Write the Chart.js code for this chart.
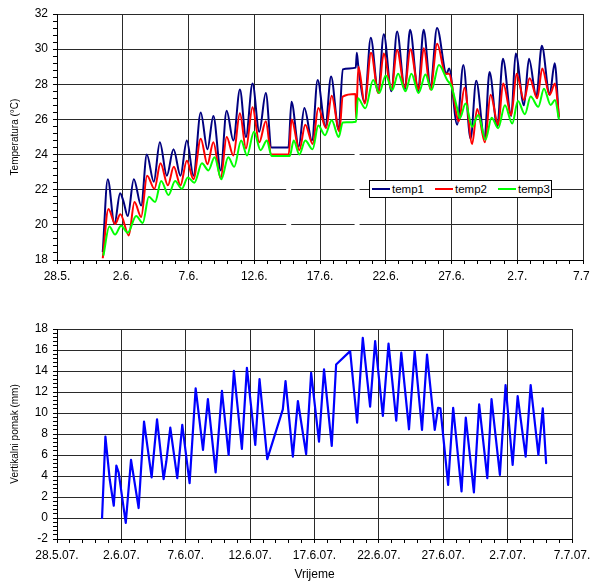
<!DOCTYPE html>
<html>
<head>
<meta charset="utf-8">
<script src="https://cdn.jsdelivr.net/npm/chart.js@4.4.0/dist/chart.umd.min.js"></script>
<style>
  html, body { margin: 0; padding: 0; background: #fff; overflow: hidden; }
  #wrap { position: relative; width: 590px; height: 581px; overflow: hidden; }
  #top { position: absolute; left: 0; top: 0; }
  #bottom { position: absolute; left: 0; top: 295px; }
  #legend {
    position: absolute; left: 369px; top: 180px; width: 181px; height: 16px;
    border: 1px solid #000; background: #fff; display: flex; align-items: center;
    font: 11.5px "Liberation Sans", Arial, sans-serif; color: #000;
  }
  #legend .item { display: flex; align-items: center; margin-left: 2px; margin-right: 9px; }
  #legend i { display: inline-block; width: 18px; height: 2px; margin-right: 2px; }
</style>
</head>
<body>
<div id="wrap">
  <canvas id="top" width="600" height="292"></canvas>
  <canvas id="bottom" width="600" height="286"></canvas>
  <div id="legend">
    <span class="item"><i style="background:#000080"></i>temp1</span>
    <span class="item"><i style="background:#ff0000"></i>temp2</span>
    <span class="item"><i style="background:#00ff00"></i>temp3</span>
  </div>
</div>
<script>
// x values are days counted from 28.5.
const dayTicks = [0, 5, 10, 15, 20, 25, 30, 35, 40];
const topDateLabels = ['28.5.', '2.6.', '7.6.', '12.6.', '17.6.', '22.6.', '27.6.', '2.7.', '7.7.'];
const bottomDateLabels = ['28.5.07.', '2.6.07.', '7.6.07.', '12.6.07.', '17.6.07.', '22.6.07.', '27.6.07.', '2.7.07.', '7.7.07.'];
const tempTicks = [18, 20, 22, 24, 26, 28, 30, 32];
const pomakTicks = [-2, 0, 2, 4, 6, 8, 10, 12, 14, 16, 18];

const temp1Days = [3.48, 3.86, 4.37, 4.8, 5.05, 5.38, 5.84, 6.4, 6.83, 7.36, 7.82, 8.35, 8.86, 9.39, 9.87, 10.38,
  10.93, 11.44, 11.89, 12.45, 12.9, 13.41, 13.91, 14.37, 14.87, 15.38, 15.88, 16.31, 17.6, 17.83, 18.38, 18.81,
  19.39, 19.82, 20.41, 20.84, 21.42, 21.73, 22.72, 22.8, 22.9, 23.4, 23.86, 24.42, 24.85, 25.43, 25.86, 26.45,
  26.85, 27.46, 27.88, 28.4, 28.9, 29.62, 29.82, 30.43, 30.9, 31.45, 31.88, 32.51, 32.89, 33.48, 33.91, 34.54,
  34.88, 35.51, 35.89, 36.45, 36.87, 37.46, 37.85, 38.16];
const temp1 = [18.45, 22.6, 20.05, 21.8, 21.35, 20.5, 22.6, 21.1, 24.0, 22.45, 24.7, 22.8, 24.3, 22.8, 24.8, 22.8,
  26.4, 24.3, 26.2, 23.1, 26.5, 24.8, 27.7, 25.0, 28.05, 25.3, 27.5, 24.4, 24.4, 27.0, 24.45, 26.65,
  24.8, 28.25, 25.6, 28.45, 25.4, 28.85, 28.95, 29.8, 29.1, 27.0, 30.65, 27.55, 30.85, 27.6, 31.0, 27.7,
  31.1, 27.6, 31.1, 27.9, 31.2, 28.6, 28.9, 25.7, 29.1, 24.9, 28.2, 24.9, 28.7, 25.6, 29.45, 26.2,
  29.75, 26.8, 29.45, 27.3, 30.2, 27.4, 29.2, 26.1];

const temp2Days = [3.48, 3.91, 4.42, 4.82, 5.46, 5.89, 6.4, 6.85, 7.41, 7.87, 8.43, 8.88, 9.39, 9.87, 10.38,
  10.93, 11.44, 11.89, 12.45, 12.9, 13.41, 13.91, 14.37, 14.87, 15.38, 15.88, 16.3, 17.62, 17.84, 18.43, 18.88,
  19.44, 19.87, 20.46, 20.89, 21.47, 21.73, 22.7, 22.74, 22.92, 23.4, 23.88, 24.44, 24.85, 25.43, 25.86, 26.45,
  26.87, 27.5, 27.89, 28.4, 28.91, 29.54, 29.8, 30.43, 30.56, 30.99, 31.57, 31.95, 32.54, 32.97, 33.55, 33.93,
  34.54, 34.95, 35.51, 35.94, 36.52, 36.9, 37.46, 37.87, 38.17];
const temp2 = [18.1, 20.9, 20.05, 20.6, 19.4, 21.3, 20.45, 22.8, 22.05, 23.5, 22.25, 23.3, 22.25, 23.65, 22.6,
  24.9, 23.45, 24.7, 22.65, 25.0, 23.95, 26.35, 24.35, 26.7, 24.7, 25.9, 24.0, 24.0, 26.0, 24.25, 25.7,
  24.6, 26.65, 25.5, 27.35, 25.3, 27.3, 27.45, 26.1, 29.0, 26.9, 29.8, 27.5, 29.75, 27.7, 29.95, 27.8,
  30.0, 27.7, 30.05, 27.7, 30.3, 28.6, 28.6, 26.1, 25.9, 27.8, 24.6, 26.6, 24.7, 27.4, 25.7, 28.05,
  26.25, 28.6, 27.1, 28.35, 27.2, 28.9, 27.4, 28.05, 26.15];

const temp3Days = [3.53, 3.98, 4.42, 4.87, 5.38, 6.02, 6.52, 6.98, 7.46, 7.92, 8.48, 8.98, 9.49, 9.95, 10.45,
  11.02, 11.52, 11.98, 12.5, 13.02, 13.48, 14.0, 14.45, 14.98, 15.48, 15.96, 16.32, 17.7, 18.0, 18.43, 18.88,
  19.44, 19.87, 20.38, 20.89, 21.42, 21.73, 22.74, 22.88, 23.45, 24.04, 24.5, 25.0, 25.5, 25.94, 26.5, 26.95,
  27.5, 28.02, 28.48, 29.04, 29.67, 30.0, 30.43, 30.63, 31.07, 31.57, 32.03, 32.59, 33.05, 33.55, 34.06, 34.62,
  35.05, 35.58, 36.02, 36.6, 37.03, 37.54, 37.87, 38.17];
const temp3 = [18.25, 19.9, 19.45, 19.95, 19.55, 20.5, 20.1, 21.6, 21.3, 22.5, 21.7, 22.5, 22.05, 22.7, 22.4,
  23.5, 23.1, 23.85, 22.6, 23.85, 23.3, 24.8, 23.95, 25.3, 24.25, 24.8, 23.92, 23.92, 24.8, 24.0, 24.8,
  24.3, 25.65, 25.1, 25.95, 25.0, 25.83, 25.87, 27.2, 26.63, 28.25, 27.5, 28.5, 27.68, 28.6, 27.6, 28.6,
  27.5, 28.55, 27.68, 29.1, 28.25, 27.87, 26.63, 26.06, 26.9, 25.58, 26.25, 24.85, 26.1, 25.5, 26.8, 25.77,
  27.05, 26.3, 27.3, 26.72, 27.75, 26.82, 27.1, 26.0];

// white breaks across the grid where the logger dropped out
const gapDays = [17.62, 17.62, null, 22.82, 22.82];
const gapTemps = [23.6, 18.08, null, 25.5, 18.08];

const pomakDays = [3.5, 3.76, 4.1, 4.41, 4.61, 4.79, 5.34, 5.75, 6.34, 6.76, 7.35, 7.77, 8.28, 8.49, 8.8, 9.34,
  9.73, 10.3, 10.77, 11.34, 11.72, 12.32, 12.81, 13.33, 13.74, 14.36, 14.75, 15.4, 15.73, 16.33, 17.54, 17.75,
  18.32, 18.71, 19.35, 19.74, 20.35, 20.74, 21.34, 21.68, 22.77, 23.31, 23.75, 24.32, 24.71, 25.31, 25.75, 26.35,
  26.74, 27.34, 27.78, 28.35, 28.74, 29.34, 29.6, 29.78, 30.38, 30.77, 31.42, 31.75, 32.38, 32.79, 33.42, 33.75,
  34.4, 34.84, 35.39, 35.78, 36.4, 36.79, 37.39, 37.73, 37.99];
const pomak = [0, 7.75, 3.64, 1.17, 5.0, 4.33, -0.47, 5.54, 0.95, 9.18, 3.86, 9.4, 3.7, 5.38, 8.6, 3.8,
  8.86, 3.32, 12.34, 6.49, 11.33, 4.34, 12.12, 6.01, 14.02, 6.58, 14.3, 6.96, 13.23, 5.6, 10.35, 13.04,
  5.85, 11.14, 6.08, 13.83, 7.28, 14.15, 6.87, 14.62, 15.89, 9.08, 17.15, 10.6, 16.84, 9.72, 16.61, 9.27,
  15.76, 8.45, 15.89, 8.39, 15.57, 8.39, 10.5, 10.44, 3.16, 10.5, 2.53, 9.56, 2.44, 10.82, 3.8, 11.33,
  4.11, 12.66, 5.06, 11.61, 5.85, 12.66, 6.01, 10.44, 5.22];

Chart.defaults.font.family = '"Liberation Sans", Arial, sans-serif';
Chart.defaults.color = '#000';

function toPoints(days, values) {
  return days.map((d, i) => ({ x: d, y: values[i] }));
}

function isMajor(v, list) {
  return list.some(t => Math.abs(t - v) < 1e-6);
}

function dayAxis(labels, height) {
  return {
    type: 'linear', min: 0, max: 40,
    afterFit: s => { s.height = height; },
    ticks: {
      stepSize: 1, autoSkip: false, maxRotation: 0, padding: 5, font: { size: 12 },
      callback: v => isMajor(v, dayTicks) ? labels[Math.round(v / 5)] : ''
    },
    grid: {
      color: c => isMajor(c.tick.value, dayTicks) ? '#2a2a2a' : 'rgba(0,0,0,0)',
      tickColor: '#000', tickLength: 4
    },
    border: { color: '#000' }
  };
}

function valueAxis(min, max, majors, title) {
  return {
    min: min, max: max,
    afterFit: s => { s.width = 57; },
    ticks: {
      stepSize: 0.4, autoSkip: false, padding: 5, font: { size: 12 },
      callback: v => isMajor(v, majors) ? String(Math.round(v)) : ''
    },
    grid: {
      color: c => isMajor(c.tick.value, majors) ? '#2a2a2a' : 'rgba(0,0,0,0)',
      tickColor: '#000', tickLength: 4
    },
    border: { color: '#000' },
    title: { display: true, text: title, font: { size: 10 }, padding: { top: 9, bottom: 0 } }
  };
}

new Chart(document.getElementById('top'), {
  type: 'scatter',
  data: {
    datasets: [
      { label: 'temp1', data: toPoints(temp1Days, temp1), borderColor: '#000080', borderWidth: 2, order: 3 },
      { label: 'temp2', data: toPoints(temp2Days, temp2), borderColor: '#ff0000', borderWidth: 2, order: 2 },
      { label: 'temp3', data: toPoints(temp3Days, temp3), borderColor: '#00ff00', borderWidth: 2, order: 1 },
      { label: '', data: toPoints(gapDays, gapTemps), borderColor: '#ffffff', borderWidth: 5, order: 4,
        cubicInterpolationMode: 'default', tension: 0 }
    ]
  },
  options: {
    responsive: false,
    animation: false,
    showLine: true,
    elements: {
      point: { radius: 0 },
      line: { cubicInterpolationMode: 'monotone', borderJoinStyle: 'round' }
    },
    layout: { padding: { left: 0, top: 14, right: 17, bottom: 0 } },
    plugins: { legend: { display: false }, tooltip: { enabled: false } },
    scales: {
      x: dayAxis(topDateLabels, 32),
      y: valueAxis(18, 32, tempTicks, 'Temperatura (°C)')
    }
  }
});

const bottomX = dayAxis(bottomDateLabels, 42);
bottomX.title = { display: true, text: 'Vrijeme', font: { size: 12, lineHeight: 1 }, padding: 0 };

new Chart(document.getElementById('bottom'), {
  type: 'scatter',
  data: {
    datasets: [
      { label: 'pomak', data: toPoints(pomakDays, pomak), borderColor: '#0000ff', borderWidth: 2.2, tension: 0 }
    ]
  },
  options: {
    responsive: false,
    animation: false,
    showLine: true,
    elements: { point: { radius: 0 }, line: { borderJoinStyle: 'round', borderCapStyle: 'round' } },
    layout: { padding: { left: 0, top: 34, right: 28, bottom: 0 } },
    plugins: { legend: { display: false }, tooltip: { enabled: false } },
    scales: {
      x: bottomX,
      y: valueAxis(-2, 18, pomakTicks, 'Vertikalni pomak (mm)')
    }
  }
});
</script>
</body>
</html>
